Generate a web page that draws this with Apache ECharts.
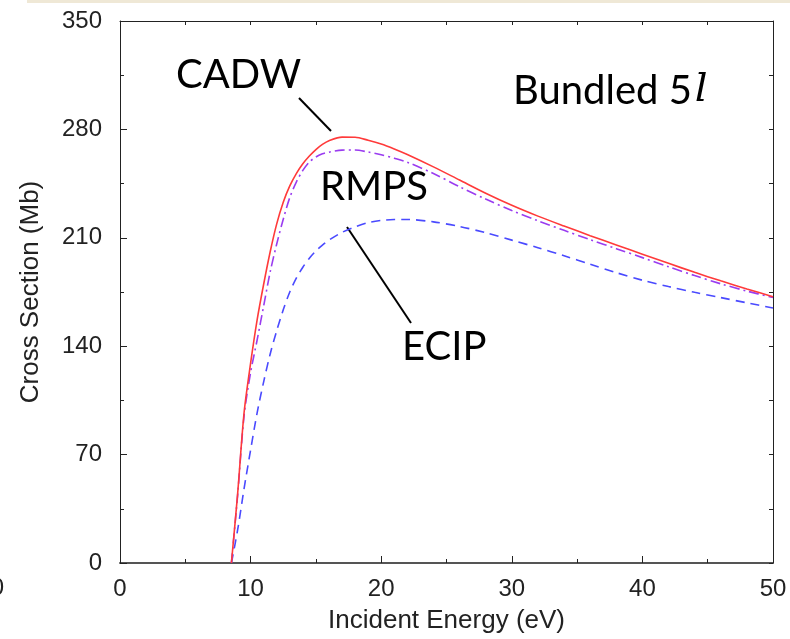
<!DOCTYPE html>
<html>
<head>
<meta charset="utf-8">
<script src="https://cdn.jsdelivr.net/npm/echarts@6/dist/echarts.min.js"></script>
<style>
html,body{margin:0;padding:0;background:#fff;}
#chart{width:790px;height:639px;}
</style>
</head>
<body>
<div id="chart"></div>
<script>
// Incident energy (eV)
var energy = [8.53, 9.0, 9.5, 10, 10.5, 11, 11.5, 12, 12.5, 13, 13.5, 14, 14.5, 15, 15.5, 16, 17, 18, 19, 20, 21, 22, 24, 26, 28, 30, 32, 34, 36, 38, 40, 42, 44, 46, 48, 50];
// Cross sections (Mb)
var cadw = [0, 44, 97, 129, 157, 180, 201, 219, 233, 243.5, 251.5, 257.8, 262.8, 267, 270.3, 272.7, 275, 274.9, 273, 270.6, 267.4, 263.8, 255.8, 247.3, 238.8, 231, 224, 217.6, 211.4, 205.4, 199.4, 193.5, 187.7, 182.2, 177, 172];
var rmps = [0, 43, 95, 123, 144, 166, 188, 206, 222, 236, 246, 253.5, 259, 262.2, 264.2, 265.3, 266.6, 266.7, 265.4, 263.6, 261.4, 258.8, 251.5, 243, 235, 227.6, 221, 214.8, 208.8, 203, 197.2, 191.3, 185.6, 180.3, 175.6, 171.5];
var ecip = [0, 21, 48, 73, 97, 117, 135, 150, 163.5, 175, 184, 191, 196.8, 201.5, 205.3, 208.5, 213.5, 217, 219.8, 221.2, 221.8, 221.8, 220.3, 217.3, 213.3, 208.5, 203.6, 198.4, 193, 187.5, 182.6, 178.5, 174.8, 171.4, 168, 164.7];
var xTicks = {min: 0, max: 50, interval: 10, minor: 5};
var yTicks = {min: 0, max: 350, interval: 70, minor: 35};
var xName = 'Incident Energy (eV)';
var yName = 'Cross Section (Mb)';
var seriesNames = ['CADW', 'RMPS', 'ECIP'];

function pairs(ys) { return energy.map(function (x, i) { return [x, ys[i]]; }); }

var chart = echarts.init(document.getElementById('chart'));
var lblFont = {fontFamily: 'Liberation Sans, Arial, sans-serif', fontSize: 24, color: '#222'};
var annFont = 'Lato, "Open Sans", sans-serif';

function tickOnlyAxis(pos, min, max, interval, len, showLine, lineColor, lineWidth) {
  return {
    type: 'value', position: pos, offset: 0, min: min, max: max, interval: interval,
    axisLine: {show: showLine, onZero: false, lineStyle: {color: lineColor || '#222', width: lineWidth || 1}},
    axisTick: {show: true, inside: true, length: len, lineStyle: {color: '#222', width: 1}},
    axisLabel: {show: false}, splitLine: {show: false}
  };
}

chart.setOption({
  animation: false,
  backgroundColor: '#ffffff',
  grid: {left: 120, top: 21, right: 17, bottom: 76, containLabel: false},
  xAxis: [{
    type: 'value', position: 'bottom', offset: 0, min: xTicks.min, max: xTicks.max, interval: xTicks.interval,
    name: xName, nameLocation: 'middle', nameGap: 45,
    nameTextStyle: {fontFamily: 'Liberation Sans, Arial, sans-serif', fontSize: 26, color: '#222'},
    axisLine: {show: true, onZero: false, lineStyle: {color: '#555', width: 2}},
    axisTick: {show: true, inside: true, length: 7, lineStyle: {color: '#222', width: 1}},
    axisLabel: Object.assign({margin: 14}, lblFont),
    splitLine: {show: false}
  },
    tickOnlyAxis('top', xTicks.min, xTicks.max, xTicks.minor, 4, true),
    tickOnlyAxis('bottom', xTicks.min, xTicks.max, xTicks.minor, 4, false)
  ],
  yAxis: [{
    type: 'value', position: 'left', offset: 0, min: yTicks.min, max: yTicks.max, interval: yTicks.interval,
    name: yName, nameLocation: 'middle', nameGap: 76, nameRotate: 90,
    nameTextStyle: {fontFamily: 'Liberation Sans, Arial, sans-serif', fontSize: 26, color: '#222'},
    axisLine: {show: true, onZero: false, lineStyle: {color: '#222', width: 1}},
    axisTick: {show: true, inside: true, length: 7, lineStyle: {color: '#222'}},
    axisLabel: Object.assign({margin: 18}, lblFont),
    splitLine: {show: false}
  },
    tickOnlyAxis('right', yTicks.min, yTicks.max, yTicks.minor, 4, true),
    tickOnlyAxis('left', yTicks.min, yTicks.max, yTicks.minor, 4, false)
  ],
  series: [{
    name: seriesNames[0], type: 'line', data: pairs(cadw), showSymbol: false, symbol: 'none', smooth: 0.3,
    lineStyle: {color: '#ff3a3a', width: 1.6, type: 'solid'}, z: 4
  }, {
    name: seriesNames[1], type: 'line', data: pairs(rmps), showSymbol: false, symbol: 'none', smooth: 0.3,
    lineStyle: {color: '#9a3cf0', width: 1.6, type: [10, 4, 2, 4]}, z: 3
  }, {
    name: seriesNames[2], type: 'line', data: pairs(ecip), showSymbol: false, symbol: 'none', smooth: 0.3,
    lineStyle: {color: '#4a4aff', width: 1.6, type: [9, 6]}, z: 2
  }],
  graphic: [
    {type: 'rect', shape: {x: 27, y: 0, width: 763, height: 3}, style: {fill: '#efe8d6'}, silent: true},
    {type: 'text', style: {x: 4, y: 588, text: '0', font: '24px "Liberation Sans", Arial, sans-serif', fill: '#222', textAlign: 'right', textVerticalAlign: 'middle'}},
    {type: 'text', style: {x: 176, y: 75, text: 'CADW', font: '40px ' + annFont, fill: '#000', textAlign: 'left', textVerticalAlign: 'middle'}},
    {type: 'text', style: {x: 320, y: 187, text: 'RMPS', font: '40px ' + annFont, fill: '#000', textAlign: 'left', textVerticalAlign: 'middle'}},
    {type: 'text', style: {x: 402, y: 347, text: 'ECIP', font: '40px ' + annFont, fill: '#000', textAlign: 'left', textVerticalAlign: 'middle'}},
    {type: 'text', style: {x: 513, y: 91, text: '{a|Bundled 5}{b|l}', textAlign: 'left', textVerticalAlign: 'middle',
      rich: {a: {fontFamily: annFont, fontSize: 40, color: '#000'}, b: {fontFamily: '"DejaVu Serif", serif', fontStyle: 'italic', fontSize: 40, color: '#000', padding: [0, 0, 0, 3]}}}},
    {type: 'line', shape: {x1: 299, y1: 98, x2: 331, y2: 131}, style: {stroke: '#000', lineWidth: 2}},
    {type: 'line', shape: {x1: 347, y1: 227, x2: 411, y2: 323}, style: {stroke: '#000', lineWidth: 2}}
  ]
});
</script>
</body>
</html>
